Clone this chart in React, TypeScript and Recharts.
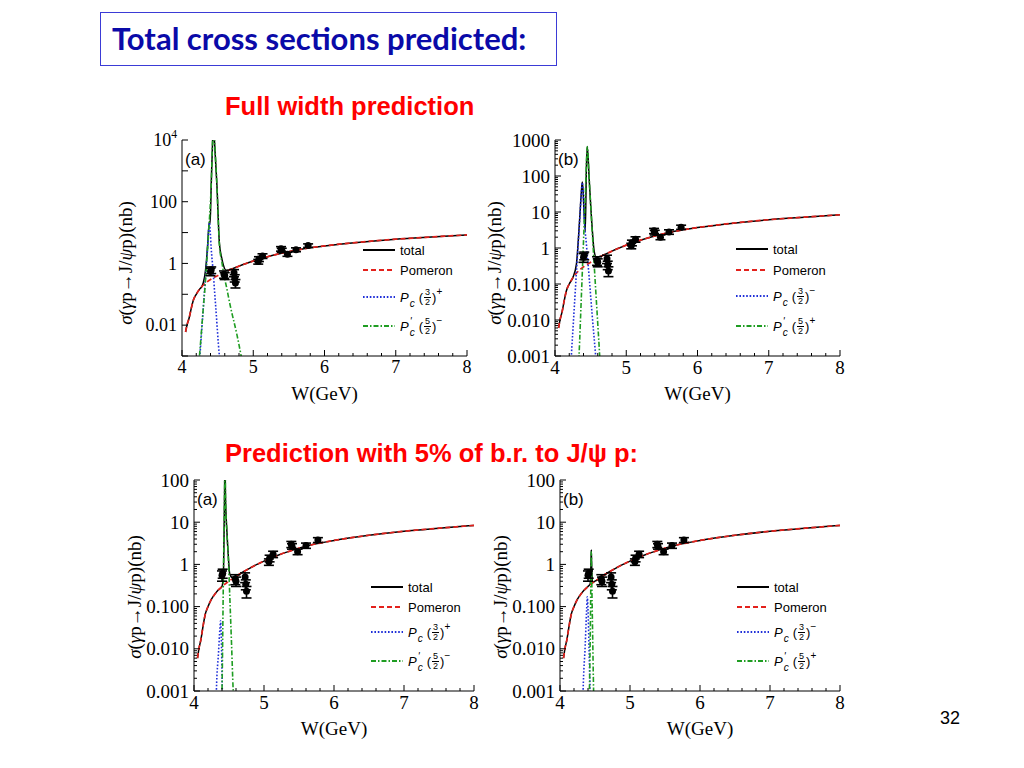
import React from "react";
import { ComposedChart, Line, Scatter, ErrorBar, XAxis, YAxis, Label } from "recharts";

// Pomeron background (same in all four panels)
const pomW = [4.05, 4.07, 4.1, 4.13, 4.16, 4.2, 4.25, 4.3, 4.35, 4.4, 4.5, 4.6, 4.7, 4.8, 4.9, 5.0, 5.2, 5.4, 5.6, 5.8, 6.0, 6.5, 7.0, 7.5, 8.0];
const pomS = [0.006, 0.01, 0.017, 0.035, 0.065, 0.1, 0.15, 0.2, 0.25, 0.3, 0.4, 0.52, 0.66, 0.82, 1.0, 1.2, 1.65, 2.15, 2.7, 3.2, 3.7, 4.9, 6.1, 7.2, 8.4];

// GlueX data points
const dataW = [4.40, 4.41, 4.59, 4.60, 4.73, 4.74, 4.75, 5.07, 5.08, 5.13, 5.39, 5.40, 5.48, 5.60, 5.77];
const dataS = [0.55, 0.62, 0.45, 0.40, 0.50, 0.34, 0.23, 1.15, 1.40, 1.75, 3.0, 2.7, 2.0, 2.8, 3.8];
const dataE = [0.15, 0.15, 0.12, 0.10, 0.13, 0.09, 0.07, 0.2, 0.25, 0.3, 0.5, 0.4, 0.3, 0.4, 0.5];

// full width, (a)
const totW1 = [4.05, 4.07, 4.1, 4.13, 4.16, 4.2, 4.25, 4.28, 4.3, 4.33, 4.36, 4.375, 4.385, 4.395, 4.41, 4.43, 4.44, 4.455, 4.49, 4.525, 4.56, 4.58, 4.62, 4.7, 4.8, 4.9, 5.0, 5.2, 5.4, 5.6, 5.8, 6.0, 6.5, 7.0, 7.5, 8.0];
const totS1 = [0.006, 0.01, 0.017, 0.035, 0.065, 0.1, 0.15, 0.18, 0.24, 0.6, 4, 14, 22, 20, 350, 10000, 30000, 10000, 350, 4.5, 1.4, 0.9, 0.6, 0.66, 0.82, 1.0, 1.2, 1.65, 2.15, 2.7, 3.2, 3.7, 4.9, 6.1, 7.2, 8.4];
const blueW1 = [4.22, 4.25, 4.29, 4.33, 4.36, 4.375, 4.385, 4.395, 4.41, 4.43, 4.47, 4.525, 4.56];
const blueS1 = [0.0002, 0.001, 0.019, 0.36, 3.3, 13, 21, 12, 3, 0.85, 0.05, 0.001, 0.0002];
const greenW1 = [4.2, 4.245, 4.29, 4.325, 4.37, 4.41, 4.43, 4.44, 4.455, 4.49, 4.525, 4.56, 4.58, 4.63, 4.675, 4.77, 4.83, 4.87];
const greenS1 = [0.0001, 0.001, 0.02, 0.2, 8, 350, 10000, 30000, 10000, 350, 4, 1.1, 0.55, 0.15, 0.045, 0.005, 0.001, 0.0003];

// full width, (b)
const totW2 = [4.05, 4.07, 4.1, 4.13, 4.16, 4.2, 4.25, 4.3, 4.33, 4.35, 4.37, 4.383, 4.395, 4.41, 4.425, 4.44, 4.453, 4.48, 4.52, 4.55, 4.58, 4.65, 4.7, 4.8, 4.9, 5.0, 5.2, 5.4, 5.6, 5.8, 6.0, 6.5, 7.0, 7.5, 8.0];
const totS2 = [0.006, 0.01, 0.017, 0.035, 0.065, 0.1, 0.15, 0.35, 2, 8.5, 36, 68, 36, 8, 3, 150, 660, 80, 4, 0.8, 0.55, 0.6, 0.66, 0.82, 1.0, 1.2, 1.65, 2.15, 2.7, 3.2, 3.7, 4.9, 6.1, 7.2, 8.4];
const blueW2 = [4.2, 4.229, 4.26, 4.3, 4.33, 4.35, 4.37, 4.383, 4.395, 4.41, 4.44, 4.48, 4.52, 4.571, 4.6];
const blueS2 = [0.0001, 0.001, 0.01, 0.2, 1.8, 8, 35, 66, 35, 7, 1.3, 0.15, 0.015, 0.001, 0.0002];
const greenW2 = [4.31, 4.337, 4.37, 4.4, 4.43, 4.453, 4.48, 4.52, 4.56, 4.6, 4.627, 4.65];
const greenS2 = [0.0001, 0.001, 0.045, 1.5, 50, 650, 80, 3.5, 0.16, 0.008, 0.001, 0.0001];

// 5% b.r., (a)
const totW3 = [4.05, 4.07, 4.1, 4.13, 4.16, 4.2, 4.25, 4.3, 4.35, 4.4, 4.42, 4.435, 4.443, 4.45, 4.47, 4.49, 4.51, 4.55, 4.6, 4.7, 4.8, 4.9, 5.0, 5.2, 5.4, 5.6, 5.8, 6.0, 6.5, 7.0, 7.5, 8.0];
const totS3 = [0.006, 0.01, 0.017, 0.035, 0.065, 0.1, 0.15, 0.2, 0.25, 0.3, 0.6, 30, 300, 40, 6, 1.6, 0.6, 0.48, 0.52, 0.66, 0.82, 1.0, 1.2, 1.65, 2.15, 2.7, 3.2, 3.7, 4.9, 6.1, 7.2, 8.4];
const blueW3 = [4.31, 4.32, 4.35, 4.37, 4.38, 4.39, 4.405, 4.415];
const blueS3 = [0.0002, 0.001, 0.008, 0.03, 0.046, 0.02, 0.001, 0.0002];
const greenW3 = [4.39, 4.4, 4.42, 4.435, 4.443, 4.45, 4.47, 4.49, 4.51, 4.535, 4.56, 4.58];
const greenS3 = [0.0002, 0.001, 0.5, 30, 300, 40, 6, 1.5, 0.2, 0.015, 0.001, 0.0002];

// 5% b.r., (b)
const totW4 = [4.05, 4.07, 4.1, 4.13, 4.16, 4.2, 4.25, 4.3, 4.35, 4.4, 4.43, 4.442, 4.447, 4.452, 4.465, 4.5, 4.6, 4.7, 4.8, 4.9, 5.0, 5.2, 5.4, 5.6, 5.8, 6.0, 6.5, 7.0, 7.5, 8.0];
const totS4 = [0.006, 0.01, 0.017, 0.035, 0.065, 0.1, 0.15, 0.2, 0.25, 0.3, 0.34, 1.0, 2.2, 1.0, 0.38, 0.4, 0.52, 0.66, 0.82, 1.0, 1.2, 1.65, 2.15, 2.7, 3.2, 3.7, 4.9, 6.1, 7.2, 8.4];
const blueW4 = [4.32, 4.33, 4.36, 4.38, 4.39, 4.4, 4.415, 4.43, 4.44];
const blueS4 = [0.0002, 0.001, 0.012, 0.08, 0.17, 0.09, 0.01, 0.001, 0.0002];
const greenW4 = [4.41, 4.42, 4.435, 4.442, 4.447, 4.452, 4.465, 4.48, 4.49];
const greenS4 = [0.0002, 0.001, 0.05, 0.6, 2.0, 0.6, 0.03, 0.001, 0.0002];

// tick labels
const xMajor = [4, 5, 6, 7, 8];
const yLabels1: [number, string][] = [[10000, "10^4"], [100, "100"], [1, "1"], [0.01, "0.01"]];
const yLabels2: [number, string][] = [[1000, "1000"], [100, "100"], [10, "10"], [1, "1"], [0.1, "0.100"], [0.01, "0.010"], [0.001, "0.001"]];
const yLabels3: [number, string][] = [[100, "100"], [10, "10"], [1, "1"], [0.1, "0.100"], [0.01, "0.010"], [0.001, "0.001"]];

const SERIF = '"Liberation Serif", "DejaVu Serif", serif';
const SANS = '"Liberation Sans", Arial, sans-serif';
const RED = "#e3211c";
const BLUE = "#1f2fd8";
const GREEN = "#1f9d22";

type Pt = { w: number; s: number };
const zip = (w: number[], s: number[]): Pt[] => w.map((x, i) => ({ w: x, s: s[i] }));

const xTicks: number[] = [];
for (let i = 0; i <= 20; i++) xTicks.push(Math.round((4 + i * 0.2) * 10) / 10);

const logTicks = (lo: number, hi: number, minors: boolean) => {
  const out: number[] = [];
  for (let e = lo; e <= hi; e++) {
    out.push(Math.pow(10, e));
    if (minors && e < hi) for (let m = 2; m <= 9; m++) out.push(m * Math.pow(10, e));
  }
  return out;
};
const isDecade = (v: number) => Math.abs(Math.log10(v) - Math.round(Math.log10(v))) < 1e-6;

const bottomTick = (fs: number) => (p: any) => {
  const { x, y, payload } = p;
  const v = payload.value;
  const major = xMajor.includes(v);
  const base = y - 4;
  return (
    <g>
      <line x1={x} x2={x} y1={base} y2={base - (major ? 6 : 3)} stroke="#000" />
      {major && (
        <text x={x} y={base + 3} dy="0.8em" textAnchor="middle" fontFamily={SERIF} fontSize={fs} fill="#000">
          {v}
        </text>
      )}
    </g>
  );
};
const topTick = (p: any) => {
  const { x, y, payload } = p;
  const major = xMajor.includes(payload.value);
  return <line x1={x} x2={x} y1={y} y2={y + (major ? 6 : 3)} stroke="#000" />;
};
const leftTick = (fs: number, labels: [number, string][]) => (p: any) => {
  const { x, y, payload } = p;
  const v = payload.value;
  const base = x + 4;
  const lab = labels.find((l) => Math.abs(Math.log10(l[0]) - Math.log10(v)) < 1e-6);
  let text: React.ReactNode = null;
  if (lab) {
    const [b, e] = lab[1].split("^");
    text = (
      <text x={base - 5} y={y} dy="0.35em" textAnchor="end" fontFamily={SERIF} fontSize={fs} fill="#000">
        {b}
        {e && (
          <tspan dy={-8} fontSize={fs * 0.65}>
            {e}
          </tspan>
        )}
      </text>
    );
  }
  return (
    <g>
      <line x1={base} x2={base + (isDecade(v) ? 6 : 3)} y1={y} y2={y} stroke="#000" />
      {text}
    </g>
  );
};
const rightTick = (p: any) => {
  const { x, y, payload } = p;
  return <line x1={x} x2={x - (isDecade(payload.value) ? 6 : 3)} y1={y} y2={y} stroke="#000" />;
};

const Frac = ({ n, d }: { n: string; d: string }) => (
  <span style={{ display: "inline-flex", flexDirection: "column", alignItems: "center", fontSize: 9, lineHeight: "9px", verticalAlign: "middle", margin: "0 1px" }}>
    <span>{n}</span>
    <span style={{ borderTop: "1px solid #000", padding: "0 1px" }}>{d}</span>
  </span>
);

const PcName = ({ prime, n, sign }: { prime: boolean; n: string; sign: string }) => (
  <span style={{ display: "inline-flex", alignItems: "center" }}>
    <i>P</i>
    <span style={{ display: "inline-flex", flexDirection: "column", fontSize: 10, lineHeight: "8px", fontStyle: "italic", marginLeft: 1 }}>
      <span>{prime ? "'" : "\u00a0"}</span>
      <span style={{ transform: "translateY(3px)" }}>c</span>
    </span>
    <span style={{ marginLeft: 4 }}>(</span>
    <Frac n={n} d="2" />
    <span>)</span>
    <span style={{ fontSize: 10, transform: "translateY(-6px)" }}>{sign}</span>
  </span>
);

type PanelCfg = {
  plotLeft: number;
  plotTop: number;
  plotW: number;
  plotH: number;
  lo: number;
  hi: number;
  minors: boolean;
  labels: [number, string][];
  fs: number;
  letter: string;
  total: Pt[];
  blue: Pt[];
  green: Pt[];
  blueSign: string;
  greenSign: string;
  legendX: number;
  legendRows: number[];
  yLabelX: number;
  yLabelY: number;
};

const Panel = ({ c }: { c: PanelCfg }) => {
  const yTicks = logTicks(c.lo, c.hi, c.minors);
  const domain = [Math.pow(10, c.lo), Math.pow(10, c.hi)];
  const points = dataW.map((w, i) => ({ w, s: dataS[i], e: dataE[i] }));
  const legend = [
    { color: "#000", dash: undefined, label: <span>total</span> },
    { color: RED, dash: "5 3", label: <span>Pomeron</span> },
    { color: BLUE, dash: "1.6 1.8", label: <PcName prime={false} n="3" sign={c.blueSign} /> },
    { color: GREEN, dash: "5 2 1.5 2", label: <PcName prime={true} n="5" sign={c.greenSign} /> },
  ];
  return (
    <>
      <div style={{ position: "absolute", left: c.plotLeft - 60, top: c.plotTop - 20 }}>
        <ComposedChart width={c.plotW + 70} height={c.plotH + 74} margin={{ top: 20, right: 10, bottom: 8, left: 0 }}>
          <XAxis dataKey="w" type="number" domain={[4, 8]} allowDataOverflow ticks={xTicks} interval={0} tickSize={0} tickMargin={4} height={46} axisLine={{ stroke: "#000" }} tickLine={false} tick={bottomTick(c.fs)}>
            <Label value="W(GeV)" position="insideBottom" offset={2} style={{ fontFamily: SERIF, fontSize: 19, fill: "#000" }} />
          </XAxis>
          <XAxis xAxisId="t" orientation="top" type="number" domain={[4, 8]} allowDataOverflow ticks={xTicks} interval={0} tickSize={0} tickMargin={0} height={0} axisLine={{ stroke: "#000" }} tickLine={false} tick={topTick} />
          <YAxis dataKey="s" type="number" scale="log" domain={domain} allowDataOverflow ticks={yTicks} interval={0} tickSize={0} tickMargin={4} width={60} axisLine={{ stroke: "#000" }} tickLine={false} tick={leftTick(c.fs, c.labels)} />
          <YAxis yAxisId="r" orientation="right" type="number" scale="log" domain={domain} allowDataOverflow ticks={yTicks} interval={0} tickSize={0} tickMargin={0} width={0} axisLine={{ stroke: "#000" }} tickLine={false} tick={rightTick} />
          <Line data={c.total} dataKey="s" type="monotone" stroke="#000" strokeWidth={1.5} dot={false} activeDot={false} isAnimationActive={false} />
          <Line data={zip(pomW, pomS)} dataKey="s" type="monotone" stroke={RED} strokeWidth={1.7} strokeDasharray="5 3" dot={false} activeDot={false} isAnimationActive={false} />
          <Line data={c.blue} dataKey="s" type="monotone" stroke={BLUE} strokeWidth={1.6} strokeDasharray="1.6 1.8" dot={false} activeDot={false} isAnimationActive={false} />
          <Line data={c.green} dataKey="s" type="monotone" stroke={GREEN} strokeWidth={1.6} strokeDasharray="5 2 1.5 2" dot={false} activeDot={false} isAnimationActive={false} />
          <Scatter data={points} dataKey="s" isAnimationActive={false} shape={(p: any) => <circle cx={p.cx} cy={p.cy} r={3.5} fill="#000" />}>
            <ErrorBar dataKey="e" direction="y" width={5} stroke="#000" strokeWidth={1.6} isAnimationActive={false} />
          </Scatter>
        </ComposedChart>
      </div>
      <div style={{ position: "absolute", left: c.plotLeft + 3, top: c.plotTop + 10, fontFamily: SANS, fontSize: 17, lineHeight: "20px" }}>{c.letter}</div>
      <div
        style={{
          position: "absolute",
          left: c.yLabelX,
          top: c.yLabelY,
          transform: "translate(-50%, -50%) rotate(-90deg)",
          fontFamily: SERIF,
          fontSize: 19,
          whiteSpace: "nowrap",
        }}
      >
        <i>σ</i>(<i>γ</i>p→J/<i>ψ</i>p)(nb)
      </div>
      {legend.map((row, i) => (
        <div key={i} style={{ position: "absolute", left: c.legendX, top: c.legendRows[i] - 10, height: 20, display: "flex", alignItems: "center", fontFamily: SANS, fontSize: 13 }}>
          <svg width={32} height={4} style={{ marginRight: 5 }}>
            <line x1={0} x2={32} y1={2} y2={2} stroke={row.color} strokeWidth={2} strokeDasharray={row.dash} />
          </svg>
          {row.label}
        </div>
      ))}
    </>
  );
};

const panels: PanelCfg[] = [
  { plotLeft: 182, plotTop: 140, plotW: 285, plotH: 216, lo: -3, hi: 4, minors: false, labels: yLabels1, fs: 18, letter: "(a)", total: zip(totW1, totS1), blue: zip(blueW1, blueS1), green: zip(greenW1, greenS1), blueSign: "+", greenSign: "\u2212", legendX: 363, legendRows: [250, 270, 297, 326], yLabelX: 126, yLabelY: 263 },
  { plotLeft: 555, plotTop: 140, plotW: 285, plotH: 216, lo: -3, hi: 3, minors: true, labels: yLabels2, fs: 19, letter: "(b)", total: zip(totW2, totS2), blue: zip(blueW2, blueS2), green: zip(greenW2, greenS2), blueSign: "\u2212", greenSign: "+", legendX: 736, legendRows: [249, 270, 296, 326], yLabelX: 495, yLabelY: 263 },
  { plotLeft: 194, plotTop: 480, plotW: 280, plotH: 211, lo: -3, hi: 2, minors: true, labels: yLabels3, fs: 19, letter: "(a)", total: zip(totW3, totS3), blue: zip(blueW3, blueS3), green: zip(greenW3, greenS3), blueSign: "+", greenSign: "\u2212", legendX: 371, legendRows: [587, 607, 632, 661], yLabelX: 135, yLabelY: 597 },
  { plotLeft: 560, plotTop: 480, plotW: 280, plotH: 211, lo: -3, hi: 2, minors: true, labels: yLabels3, fs: 19, letter: "(b)", total: zip(totW4, totS4), blue: zip(blueW4, blueS4), green: zip(greenW4, greenS4), blueSign: "\u2212", greenSign: "+", legendX: 737, legendRows: [587, 607, 632, 661], yLabelX: 501, yLabelY: 597 },
];

export default function App() {
  return (
    <div style={{ position: "absolute", left: 0, top: 0, width: 1024, height: 768, background: "#fff", overflow: "hidden" }}>
      <div style={{ position: "absolute", left: 100, top: 12, width: 455, height: 52, border: "1.5px solid #3b3bd6" }}>
        <span style={{ position: "absolute", left: 11, top: 7, fontFamily: "Lato, 'Open Sans', sans-serif", fontWeight: 700, fontSize: 31, lineHeight: "36px", color: "#0a0aa8", whiteSpace: "nowrap" }}>
          Total cross sections predicted:
        </span>
      </div>
      <div style={{ position: "absolute", left: 225, top: 91, fontFamily: SANS, fontWeight: 700, fontSize: 25.5, lineHeight: "30px", color: "#ff0000", whiteSpace: "nowrap" }}>
        Full width prediction
      </div>
      <div style={{ position: "absolute", left: 225, top: 438, fontFamily: SANS, fontWeight: 700, fontSize: 25.5, lineHeight: "30px", color: "#ff0000", whiteSpace: "nowrap" }}>
        Prediction with 5% of b.r. to J/ψ p:
      </div>
      {panels.map((c, i) => (
        <Panel key={i} c={c} />
      ))}
      <div style={{ position: "absolute", left: 940, top: 707, fontFamily: SANS, fontSize: 18, lineHeight: "22px", color: "#000" }}>32</div>
    </div>
  );
}
